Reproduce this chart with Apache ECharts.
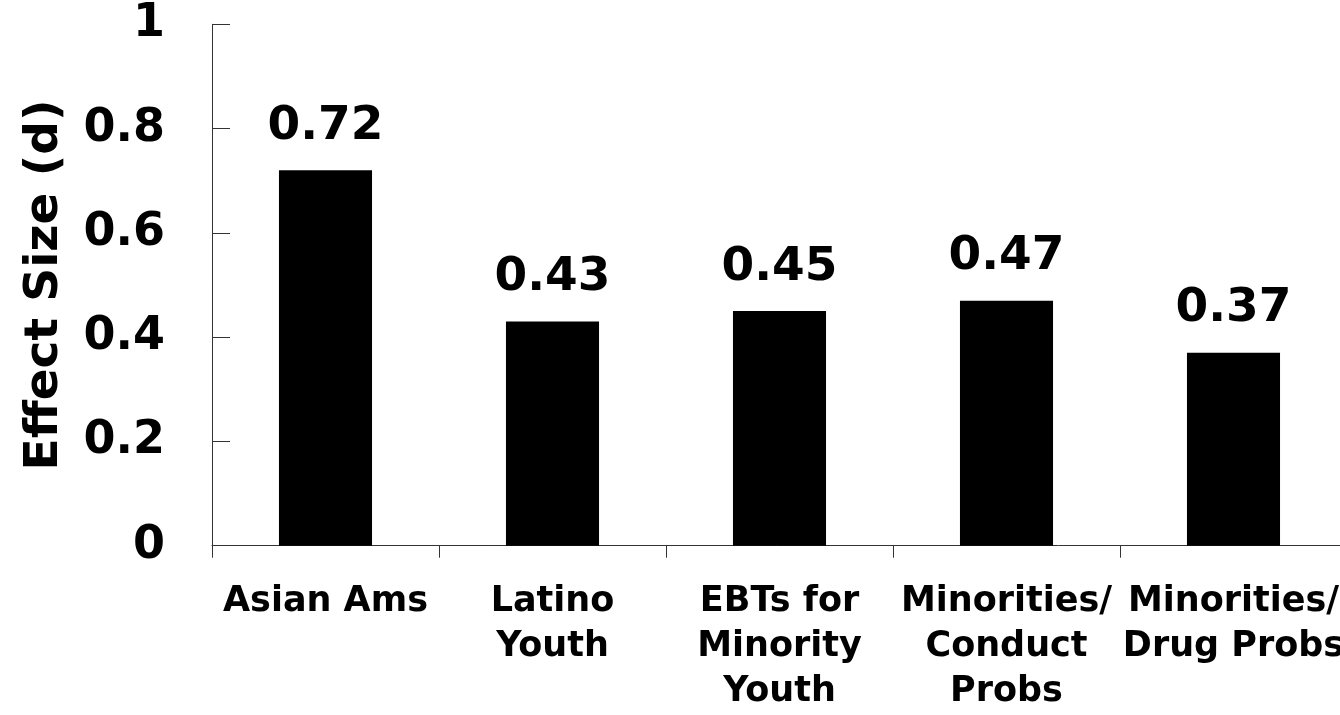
<!DOCTYPE html>
<html>
<head>
<meta charset="utf-8">
<style>
  html, body { margin: 0; padding: 0; background: #fff; }
  #chart { width: 1340px; height: 715px; }
</style>
<script src="https://cdn.jsdelivr.net/npm/echarts@6/dist/echarts.min.js"></script>
</head>
<body>
<div id="chart"></div>
<script>
// Effect sizes by population
const categories = [
  'Asian Ams',
  'Latino\nYouth',
  'EBTs for\nMinority\nYouth',
  'Minorities/\nConduct\nProbs',
  'Minorities/\nDrug Probs'
];
const effectSizes = [0.72, 0.43, 0.45, 0.47, 0.37];
const yTicks = { min: 0, max: 1, step: 0.2 };
const yTitle = 'Effect Size (d)';

const FONT = '"DejaVu Sans", Verdana, sans-serif';
const AXIS_COLOR = '#333';

const chart = echarts.init(document.getElementById('chart'), null, { renderer: 'canvas' });

chart.setOption({
  animation: false,
  backgroundColor: '#fff',
  // plot area runs a little past the right edge of the canvas
  grid: { left: 212, top: 24.3, width: 1135, height: 521.4, outerBoundsMode: 'none', containLabel: false },
  xAxis: {
    type: 'category',
    data: categories,
    boundaryGap: true,
    axisLine: { show: true, lineStyle: { color: AXIS_COLOR, width: 1 } },
    axisTick: { show: true, inside: false, length: 12, lineStyle: { color: AXIS_COLOR, width: 1 } },
    axisLabel: {
      interval: 0,
      margin: 34,
      color: '#000',
      fontFamily: FONT,
      fontWeight: 'bold',
      fontSize: 35,
      lineHeight: 45,
      align: 'center'
    },
    splitLine: { show: false }
  },
  yAxis: {
    type: 'value',
    min: yTicks.min,
    max: yTicks.max,
    interval: yTicks.step,
    name: yTitle,
    nameLocation: 'middle',
    nameGap: 144,
    nameRotate: 90,
    nameTextStyle: {
      color: '#000',
      fontFamily: FONT,
      fontWeight: 'bold',
      fontSize: 47
    },
    axisLine: { show: true, lineStyle: { color: AXIS_COLOR, width: 1 } },
    axisTick: { show: true, inside: true, length: 18, lineStyle: { color: AXIS_COLOR, width: 1 } },
    axisLabel: {
      margin: 47,
      color: '#000',
      fontFamily: FONT,
      fontWeight: 'bold',
      fontSize: 46
    },
    splitLine: { show: false }
  },
  series: [{
    type: 'bar',
    data: effectSizes,
    barWidth: '41%',
    itemStyle: { color: '#000' },
    label: {
      show: true,
      position: 'top',
      distance: 20,
      color: '#000',
      fontFamily: FONT,
      fontWeight: 'bold',
      fontSize: 47,
      formatter: p => p.value.toFixed(2)
    }
  }]
});
</script>
</body>
</html>
